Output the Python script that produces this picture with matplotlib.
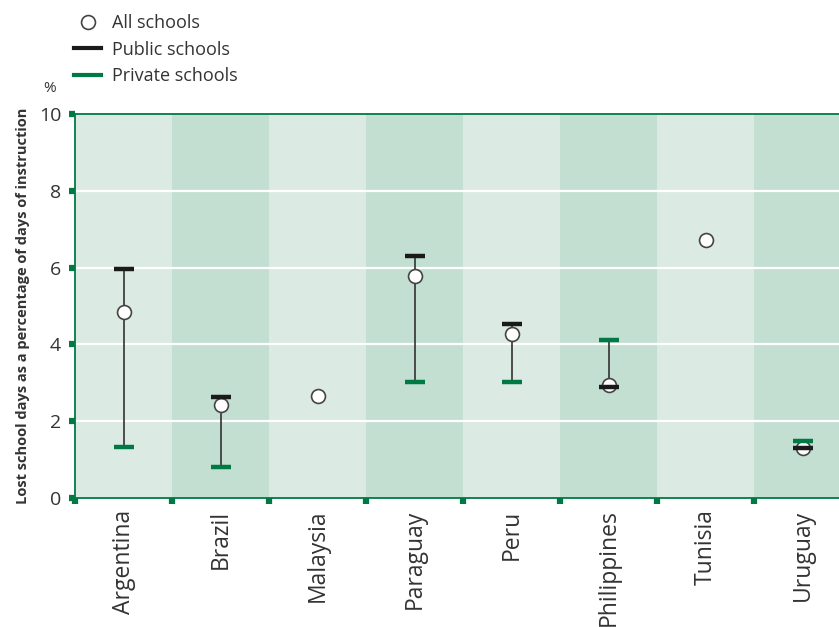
import matplotlib.pyplot as plt
from matplotlib.lines import Line2D

plt.rcParams['font.family'] = ['Open Sans', 'DejaVu Sans']

countries = ['Argentina', 'Brazil', 'Malaysia', 'Paraguay', 'Peru',
             'Philippines', 'Tunisia', 'Uruguay']
all_schools = [4.84, 2.42, 2.66, 5.79, 4.27, 2.94, 6.71, 1.29]
public_schools = [5.97, 2.64, None, 6.31, 4.54, 2.90, None, 1.30]
private_schools = [1.34, 0.82, None, 3.03, 3.03, 4.12, None, 1.49]

green = '#007a45'
dark = '#1a1a1a'
light_bg = '#dbeae2'
dark_bg = '#c2dfd1'
text_col = '#333333'

fig = plt.figure(figsize=(8.39, 6.27), dpi=100)
ax = fig.add_axes([75 / 839, 129 / 627, 776 / 839, 384 / 627])

x = list(range(len(countries)))
for i in x:
    ax.axvspan(i - 0.5, i + 0.5, color=light_bg if i % 2 == 0 else dark_bg,
               lw=0, zorder=0)
for v in [2, 4, 6, 8]:
    ax.axhline(v, color='white', lw=1.6, zorder=1)

# range line between public and private, then the three markers
for i in x:
    if public_schools[i] is not None and private_schools[i] is not None:
        ax.plot([i, i], [public_schools[i], private_schools[i]],
                color='#333333', lw=1.2, zorder=2)
ax.plot(x, all_schools, 'o', ms=10, mfc='white', mec='#444444', mew=1.2,
        zorder=3, label='All schools')
px = [i for i in x if private_schools[i] is not None]
ax.plot(px, [private_schools[i] for i in px], '_', ms=14, mew=3.2,
        color=green, zorder=4, label='Private schools')
ux = [i for i in x if public_schools[i] is not None]
ax.plot(ux, [public_schools[i] for i in ux], '_', ms=14, mew=3.2,
        color=dark, zorder=5, label='Public schools')

ax.set_xlim(-0.5, len(countries) - 0.5)
ax.set_ylim(0, 10)
ax.set_yticks([0, 2, 4, 6, 8, 10])
ax.set_xticks([i - 0.5 for i in x] + [len(countries) - 0.5])
ax.set_xticklabels([])
ax.tick_params(axis='both', direction='out', length=4, width=4.5,
               color=green, labelcolor=text_col, labelsize=14)
ax.tick_params(axis='y', pad=6)
for i, name in enumerate(countries):
    ax.text(i, -0.3, name, rotation=90, ha='center', va='top',
            fontsize=16.5, color=text_col)

for side in ['left', 'bottom', 'top']:
    ax.spines[side].set_color(green)
    ax.spines[side].set_linewidth(1.3)
ax.spines['right'].set_visible(False)

ax.set_ylabel('Lost school days as a percentage of days of instruction',
              fontsize=10.5, fontweight='bold', color=text_col, labelpad=6)
fig.text(50 / 839, 1 - 88 / 627, '%', fontsize=11, color=text_col,
         ha='center', va='center')

handles = [
    Line2D([], [], marker='o', ls='none', ms=10, mfc='white', mec='#444444',
           mew=1.2),
    Line2D([], [], color=dark, lw=3),
    Line2D([], [], color=green, lw=3),
]
fig.legend(handles, ['All schools', 'Public schools', 'Private schools'],
           loc='upper left', bbox_to_anchor=(58 / 839, 1 + 2 / 627),
           frameon=False, fontsize=13, handlelength=1.5,
           handletextpad=0.58, labelspacing=0.47, labelcolor=text_col)

fig.savefig('out.png', dpi=100)
